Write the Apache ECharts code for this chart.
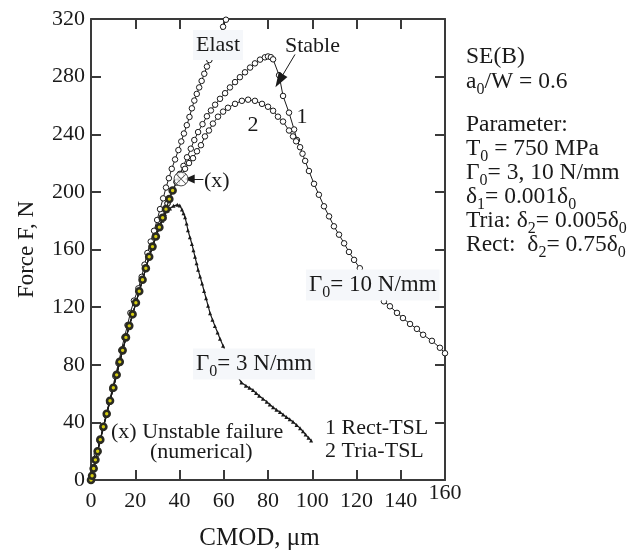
<!DOCTYPE html>
<html><head><meta charset="utf-8">
<script src="https://cdn.jsdelivr.net/npm/echarts@6/dist/echarts.min.js"></script>
<style>html,body{margin:0;padding:0;background:#fff}#c{width:634px;height:556px}</style>
</head><body><div id="c"></div>
<script>
// ---- tick labels ----
const xTicks = [0, 20, 40, 60, 80, 100, 120, 140, 160];
const yTicks = [0, 40, 80, 120, 160, 200, 240, 280, 320];

// ---- series values [CMOD (µm), Force (N)] ----
const elast = [[0,0],[1.3,9],[2.6,18],[4,27],[5.4,36],[6.8,45],[8.2,54],[9.6,63],[11,72],[12.4,81],[13.7,90],[15.1,99],[16.5,107.5],[17.8,116],[19.4,124.5],[21.4,133],[22.9,141],[24.2,149.5],[25.5,157.6],[27,165.5],[28.5,173],[29.9,180.5],[31.2,188],[32.6,195.5],[33.9,203],[35.2,209.5],[36.5,216],[38,222.5],[39.5,229],[40.8,235],[42,240.5],[43.3,246.3],[44.5,252],[45.6,258],[46.7,263.4],[47.8,268],[48.9,272.5],[50,277],[51.2,282],[52.4,287],[53.5,291.5],[55.5,299],[57.5,307],[59.7,314.6],[61,319.5],[62,324]];

const rect10 = [[0,0],[1.2,8],[3,20],[5.6,37],[8.6,55],[11.6,73],[14.3,90],[17.3,107],[20.3,123],[23.3,139],[26.3,155],[29.3,169],[32.4,182],[34.6,192],[36.9,201],[38.6,207],[40.2,212.5],[41.8,218],[43.4,224],[45.1,230],[46.7,236],[48.4,241.5],[50.4,247],[52.4,252.5],[54.2,256.5],[56.1,260.5],[58.3,264.6],[60.6,268.5],[62.8,272.5],[65.1,276.2],[67.3,279.6],[69.6,283],[71.9,286.3],[74.1,289.2],[76.4,291.8],[78.6,293.4],[80,294],[81.3,293.5],[82.3,292],[85,281],[86.8,266.6],[89.5,255],[91.8,243.3],[93.1,236],[94.5,231],[95.6,226.5],[96.8,221.5],[98.5,214.5],[100.8,205.6],[103,198],[105.3,190],[107.6,183],[109.8,176.1],[112.1,170.3],[114.4,164.3],[116.6,158.3],[118.9,152.8],[121.5,147],[124,141.5],[126.8,135.5],[129.6,129.5],[132.4,124],[135.1,120.6],[138.3,116],[141,112.4],[144.2,108.3],[147.3,104.9],[150.1,100.8],[154.1,96.6],[157.7,91.8],[160,88]];

const tria10 = [[0,0],[1.2,8],[3,20],[5.6,37],[8.6,55],[11.6,73],[14.3,90],[17.3,107],[20.3,123],[23.3,139],[26.3,155],[29.3,169],[32.4,182],[34.6,192],[36.9,201],[38.8,206.5],[40.7,211.5],[42.5,216],[44.3,220],[46.1,223.4],[47.9,228.2],[49.7,232.4],[51.5,238.5],[53.3,242.6],[55.1,247.4],[57.4,252.2],[59.7,255.7],[61.9,258.4],[65.1,261.1],[68.2,263.2],[71,264],[74.1,263.2],[77.3,261.1],[80,259.1],[82.3,256.3],[84.5,252.2],[86.8,248.8],[89.5,242.6],[91.3,238.5],[92.7,235.1]];

const rect3 = [[0,0],[0.5,3],[1.2,8],[2,14],[3,20],[4.2,28],[5.6,37],[7.1,46],[8.6,55],[10.1,64],[11.6,73],[13,82],[14.3,90],[15.8,99],[17.3,107],[18.8,115],[20.3,123],[21.8,131],[23.3,139],[24.8,147],[26.3,155],[27.8,162],[29.3,169],[30.9,175.5],[32.4,182],[33.9,188],[35.4,195],[36.9,201]];

const tria3 = [[0,0],[3,20],[8.6,55],[14.3,90],[20.3,123],[26.3,155],[30.9,175.5],[32.2,180],[33.4,184.6],[34.6,187],[35.7,188.5],[37.3,190.3],[39,191],[40.1,190.5],[41.1,187.8],[41.8,185.2],[42.5,182.3],[43.2,178],[43.8,173.4],[44.7,168.5],[45.6,163.8],[46.3,159.4],[47,154.9],[47.7,150.5],[48.4,146],[49.3,141.2],[50.2,136.4],[51.1,131.2],[52,126.1],[52.9,121],[53.8,115.8],[54.9,111.3],[56,106.9],[57.2,102.4],[58.3,98],[59.7,93.2],[62,85],[65,75],[68,67.6],[70,65.5],[71.6,64],[73.2,62.4],[74.6,60.4],[76,58.5],[77.7,56.4],[79.4,54.4],[80.8,52.4],[82.3,50.5],[83.8,48.8],[85.4,47.2],[86.8,45.5],[88.3,43.8],[89.8,42.1],[91.3,40.4],[92.9,38.2],[94.5,36],[95.8,33.8],[97,31.5],[98.3,29.3],[99.5,27.5]];

const failurePoint = [[40.7, 209]];
const stableArrow = [[92.2, 295.4], [85.1, 277.1]];
const failureArrow = [[50.8, 209], [44.6, 209]];

const FONT = 'Liberation Serif';
const INK = '#1a1a1a';
const AX = '#3a3a3a';
function subRich(size) {
  return {s: {fontSize: size, fontFamily: FONT, fill: INK, lineHeight: size, verticalAlign: 'bottom'}};
}
function T(x, y, text, opt) {
  opt = opt || {};
  const size = opt.size || 22;
  return {
    type: 'text', x: x, y: y, z: 100,
    style: {
      text: text, fill: INK, fontFamily: FONT, fontSize: size,
      align: opt.align || 'left', verticalAlign: 'middle', lineHeight: Math.round(size * 1.35),
      rich: subRich(Math.round(size * 0.68)),
      backgroundColor: opt.bg ? '#f5f7fa' : null,
      padding: opt.bg ? [0, 3, 0, 3] : 0
    }
  };
}

const chart = echarts.init(document.getElementById('c'), null, {renderer: 'canvas'});
const axisCommon = {
  axisLine: {show: true, onZero: false, lineStyle: {color: AX, width: 2}},
  axisTick: {show: true, inside: true, length: 10, lineStyle: {color: AX, width: 2}},
  splitLine: {show: false}
};
const openSym = {color: '#fff', borderColor: INK, borderWidth: 1};
chart.setOption({
  animation: false,
  backgroundColor: '#fff',
  grid: {left: 91, top: 19, width: 354, height: 467.5, containLabel: false},
  xAxis: [
    Object.assign({}, axisCommon, {
      type: 'value', position: 'bottom',
      min: xTicks[0], max: xTicks[xTicks.length - 1], interval: xTicks[1] - xTicks[0],
      name: 'CMOD, μm', nameLocation: 'middle', nameGap: 46,
      nameTextStyle: {fontFamily: FONT, fontSize: 25, color: INK, padding: [0, 17, 0, 0]},
      axisLabel: {
        fontFamily: FONT, fontSize: 22, color: INK, margin: 21, verticalAlign: 'middle',
        formatter: v => v === xTicks[xTicks.length - 1] ? '{up|' + v + '}' : String(v),
        rich: {up: {fontFamily: FONT, fontSize: 22, color: INK, padding: [0, 0, 16, 0]}}
      }
    }),
    Object.assign({}, axisCommon, {
      type: 'value', position: 'top',
      min: xTicks[0], max: xTicks[xTicks.length - 1], interval: xTicks[1] - xTicks[0],
      axisLabel: {show: false}
    })
  ],
  yAxis: [
    Object.assign({}, axisCommon, {
      type: 'value', position: 'left',
      min: yTicks[0], max: yTicks[yTicks.length - 1], interval: yTicks[1] - yTicks[0],
      name: 'Force F, N', nameLocation: 'middle', nameGap: 53,
      nameTextStyle: {fontFamily: FONT, fontSize: 23, color: INK},
      axisLabel: {fontFamily: FONT, fontSize: 22, color: INK, margin: 6}
    }),
    Object.assign({}, axisCommon, {
      type: 'value', position: 'right',
      min: yTicks[0], max: yTicks[yTicks.length - 1], interval: yTicks[1] - yTicks[0],
      axisLabel: {show: false}
    })
  ],
  series: [
    {name: 'Elast', type: 'line', data: elast, clip: true, symbol: 'circle', symbolSize: 5.5, showAllSymbol: true,
     lineStyle: {color: INK, width: 1}, itemStyle: openSym, z: 3},
    {name: 'Rect Γ10', type: 'line', data: rect10, clip: true, symbol: 'circle', symbolSize: 5.5, showAllSymbol: true,
     lineStyle: {color: INK, width: 1}, itemStyle: openSym, z: 3},
    {name: 'Tria Γ10', type: 'line', data: tria10, clip: true, symbol: 'circle', symbolSize: 5.5, showAllSymbol: true,
     lineStyle: {color: INK, width: 1}, itemStyle: openSym, z: 3},
    {name: 'Tria Γ3', type: 'line', data: tria3, clip: true, symbol: 'triangle', symbolSize: 4, showAllSymbol: true,
     lineStyle: {color: INK, width: 1.2}, itemStyle: {color: INK}, z: 4},
    {name: 'Rect Γ3', type: 'line', data: rect3, clip: true, symbol: 'circle', symbolSize: 6, showAllSymbol: true,
     lineStyle: {color: INK, width: 1.2}, itemStyle: {color: '#d4cc10', borderColor: '#2a2a22', borderWidth: 2.6}, z: 5},
    {name: 'failure', type: 'scatter', data: failurePoint, symbol: 'circle', symbolSize: 14,
     itemStyle: {color: '#fff', borderColor: INK, borderWidth: 1}, z: 6,
     markLine: {
       silent: true, animation: false,
       lineStyle: {color: INK, width: 1, type: 'solid'},
       label: {show: false},
       data: [
         [{coord: stableArrow[0], symbol: 'none'}, {coord: stableArrow[1], symbol: 'triangle', symbolSize: [10, 15]}],
         [{coord: failureArrow[0], symbol: 'none'}, {coord: failureArrow[1], symbol: 'triangle', symbolSize: [9, 10]}]
       ]
     }},
    {name: 'failureX', type: 'scatter', data: failurePoint, z: 7,
     symbol: 'path://M1,0 L10,9 L19,0 L20,1 L11,10 L20,19 L19,20 L10,11 L1,20 L0,19 L9,10 L0,1 Z',
     symbolSize: 10, itemStyle: {color: INK}}
  ],
  graphic: [
    T(193, 45, 'Elast', {bg: true}),
    T(285, 46, 'Stable'),
    T(302, 117, '1', {align: 'center'}),
    T(253, 125, '2', {align: 'center'}),
    T(204, 181, '(x)'),
    T(306, 285, 'Γ{s|0}= 10 N/mm', {bg: true, size: 23}),
    T(193, 364, 'Γ{s|0}= 3 N/mm', {bg: true, size: 23}),
    T(111, 432, '(x) Unstable failure'),
    T(150, 452, '(numerical)'),
    T(325, 428, '1 Rect-TSL'),
    T(325, 451, '2 Tria-TSL'),
    T(466, 57, 'SE(B)', {size: 23.5}),
    T(466, 82, 'a{s|0}/W = 0.6', {size: 23.5}),
    T(466, 125, 'Parameter:', {size: 23.5}),
    T(466, 149, 'T{s|0} = 750 MPa', {size: 23.5}),
    T(466, 173, 'Γ{s|0}= 3, 10 N/mm', {size: 23.5}),
    T(466, 197, 'δ{s|1}= 0.001δ{s|0}', {size: 23.5}),
    T(466, 221, 'Tria: δ{s|2}= 0.005δ{s|0}', {size: 23.5}),
    T(466, 245, 'Rect:  δ{s|2}= 0.75δ{s|0}', {size: 23.5})
  ]
});
</script>
</body></html>
